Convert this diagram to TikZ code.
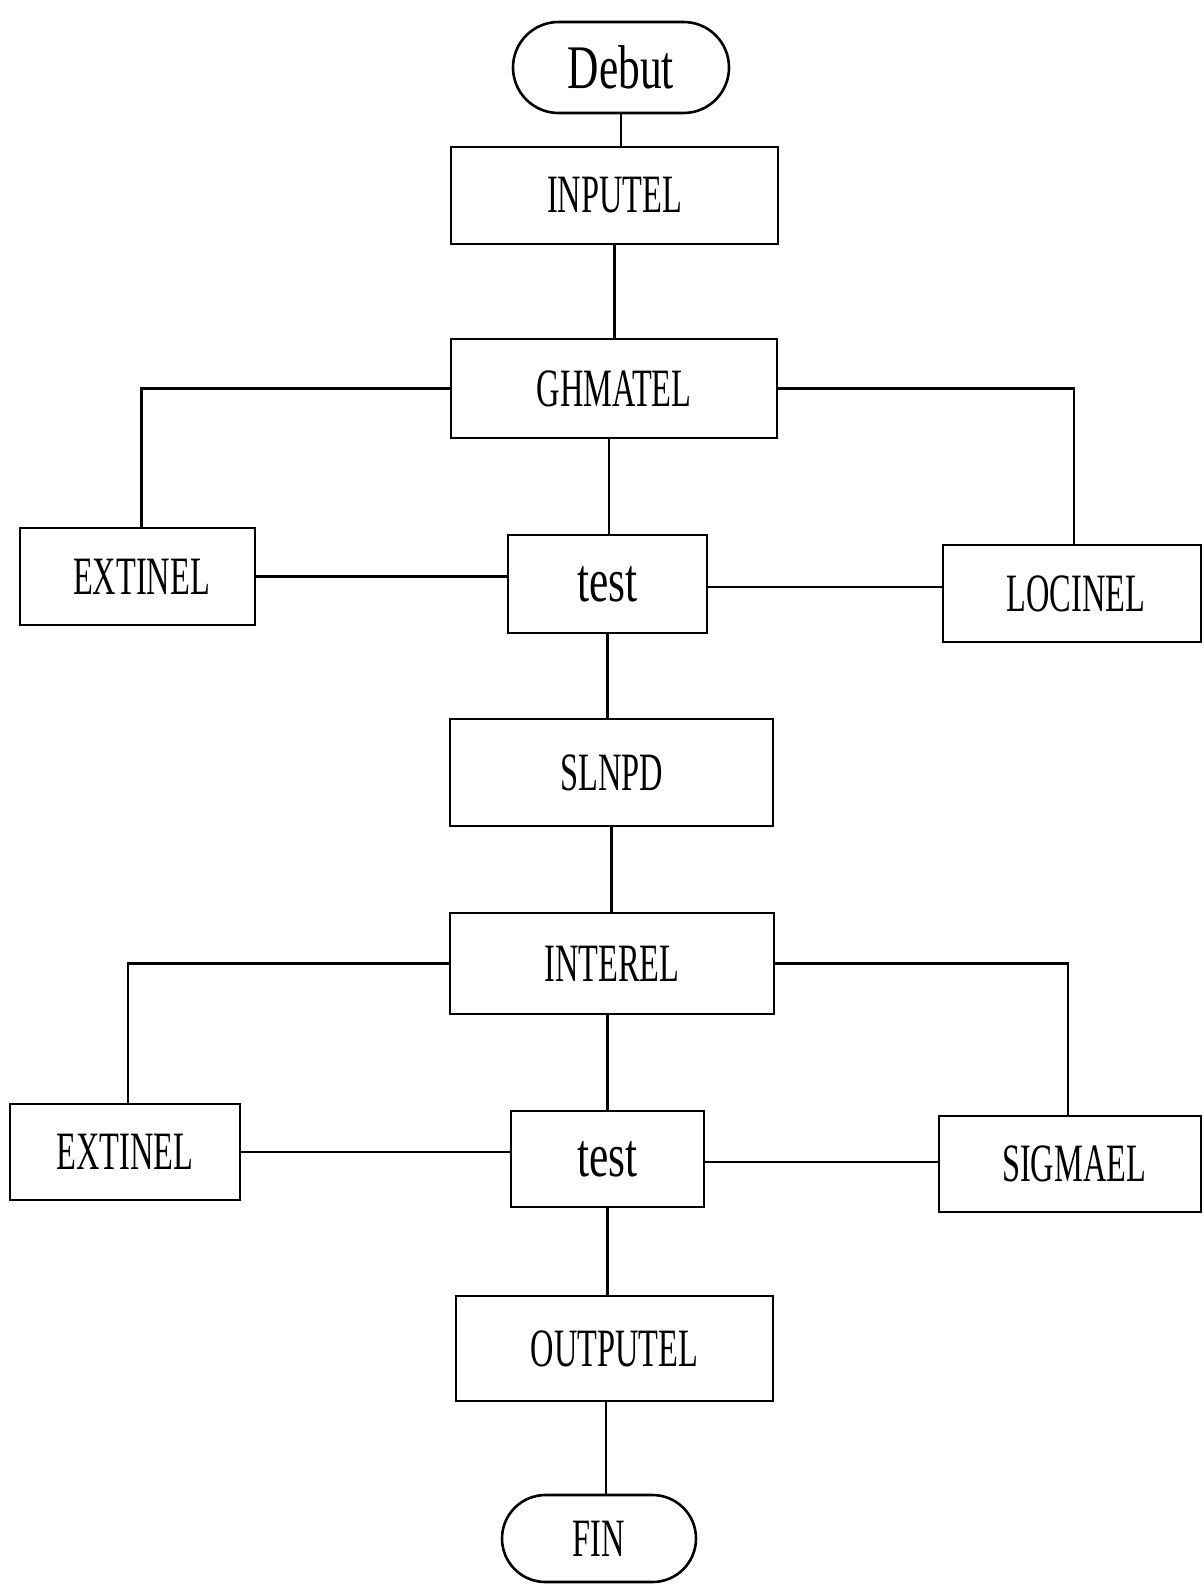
\documentclass[tikz,border=0pt]{standalone}
\usepackage{fontspec}
\setmainfont{Liberation Serif}[FakeStretch=0.6]
\newfontfamily\bigfont{Liberation Serif}[FakeStretch=0.7]
\usetikzlibrary{shapes.misc}
\begin{document}
\begin{tikzpicture}[x=1pt,y=-1pt,
  box/.style={draw,line width=2.6pt,inner sep=0pt,font=\fontsize{54}{60}\selectfont},
  term/.style={draw,line width=2.6pt,rounded rectangle,inner sep=0pt,font=\bigfont\fontsize{62}{70}\selectfont},
  link/.style={line width=2.6pt}]
\useasboundingbox (0,0) rectangle (1203,1584);
\node[term,minimum width=216pt,minimum height=91pt] (debut) at (621,67.5) {Debut};
\node[box,minimum width=327pt,minimum height=97pt] (inputel) at (614.5,195.5) {INPUTEL};
\node[box,minimum width=326pt,minimum height=99pt] (ghmatel) at (614,388.5) {GHMATEL};
\node[box,minimum width=235pt,minimum height=97pt] (extinelA) at (137.5,576.5) {\hspace*{8pt}EXTINEL};
\node[box,minimum width=199pt,minimum height=98pt,font=\bigfont\fontsize{62}{70}\selectfont] (testA) at (607.5,584) {test};
\node[box,minimum width=258pt,minimum height=97pt] (locinel) at (1072,593.5) {\hspace*{8pt}LOCINEL};
\node[box,minimum width=323pt,minimum height=107pt] (slnpd) at (611.5,772.5) {SLNPD};
\node[box,minimum width=324pt,minimum height=101pt] (interel) at (612,963.5) {INTEREL};
\node[box,minimum width=230pt,minimum height=96pt] (extinelB) at (125,1152) {EXTINEL};
\node[box,minimum width=193pt,minimum height=96pt,font=\bigfont\fontsize{62}{70}\selectfont] (testB) at (607.5,1159) {test};
\node[box,minimum width=262pt,minimum height=96pt] (sigmael) at (1070,1164) {\hspace*{8pt}SIGMAEL};
\node[box,minimum width=317pt,minimum height=105pt] (outputel) at (614.5,1348.5) {OUTPUTEL};
\node[term,minimum width=194pt,minimum height=87pt,font=\fontsize{54}{60}\selectfont] (fin) at (599,1538.5) {FIN};
% vertical spine
\draw[link] (debut.south) -- (debut.south |- inputel.north);
\draw[link] (inputel.south) -- (inputel.south |- ghmatel.north);
\draw[link] (testA.north) ++(1.5,0) coordinate (tAn) -- (tAn |- ghmatel.south);
\draw[link] (testA.south) -- (testA.south |- slnpd.north);
\draw[link] (slnpd.south) -- (slnpd.south |- interel.north);
\draw[link] (testB.north) -- (testB.north |- interel.south);
\draw[link] (testB.south) -- (testB.south |- outputel.north);
\draw[link] (fin.north) ++(7,0) coordinate (fn) -- (fn |- outputel.south);
% branches of GHMATEL
\draw[link] (extinelA.north) ++(4,0) coordinate (eAn) -- (eAn |- ghmatel.west) -- (ghmatel.west);
\draw[link] (locinel.north) ++(2,0) coordinate (lcn) -- (lcn |- ghmatel.east) -- (ghmatel.east);
\draw[link] (extinelA.east) -- (extinelA.east -| testA.west);
\draw[link] (testA.east) ++(0,3) coordinate (tAe) -- (tAe -| locinel.west);
% branches of INTEREL
\draw[link] (extinelB.north) ++(3,0) coordinate (eBn) -- (eBn |- interel.west) -- (interel.west);
\draw[link] (sigmael.north) ++(-2,0) coordinate (sgn) -- (sgn |- interel.east) -- (interel.east);
\draw[link] (extinelB.east) -- (extinelB.east -| testB.west);
\draw[link] (testB.east) ++(0,3) coordinate (tBe) -- (tBe -| sigmael.west);
\end{tikzpicture}
\end{document}
